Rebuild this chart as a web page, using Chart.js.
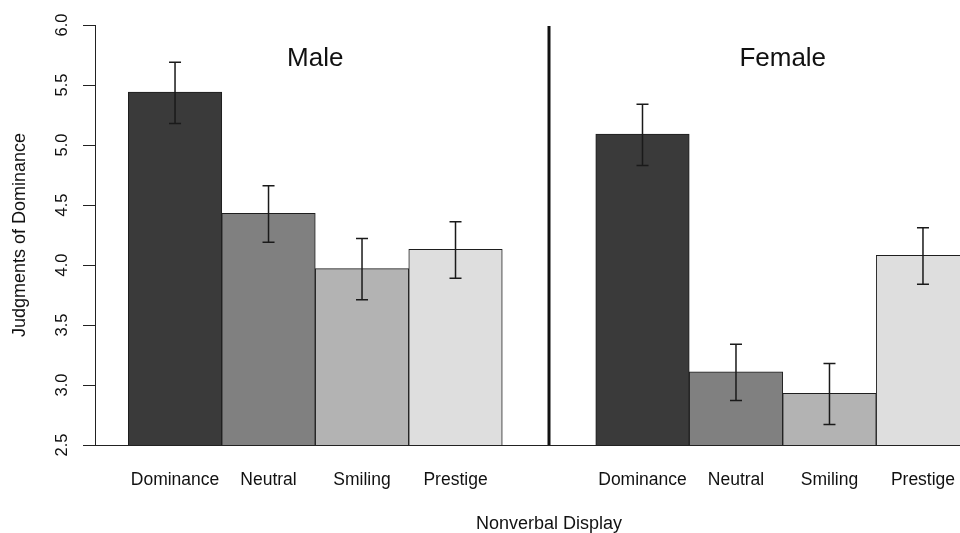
<!DOCTYPE html>
<html>
<head>
<meta charset="utf-8">
<script src="https://cdn.jsdelivr.net/npm/chart.js@4/dist/chart.umd.min.js"></script>
<style>
  html, body { margin: 0; padding: 0; background: #ffffff; }
  canvas { display: block; }
</style>
</head>
<body>
<canvas id="c" width="960" height="533"></canvas>
<script>
// ---- data ----
const groups = ['Male', 'Female'];
const categories = ['Dominance', 'Neutral', 'Smiling', 'Prestige'];
const maleMeans = [5.44, 4.43, 3.97, 4.13];
const maleLower = [5.18, 4.19, 3.71, 3.89];
const maleUpper = [5.69, 4.66, 4.22, 4.36];
const femaleMeans = [5.09, 3.11, 2.93, 4.08];
const femaleLower = [4.83, 2.87, 2.67, 3.84];
const femaleUpper = [5.34, 3.34, 3.18, 4.31];
const yTicks = [2.5, 3.0, 3.5, 4.0, 4.5, 5.0, 5.5, 6.0];
const xTitle = 'Nonverbal Display';
const yTitle = 'Judgments of Dominance';

// ---- styling ----
const barColors = ['#3a3a3a', '#808080', '#b3b3b3', '#dedede'];
const FONT = '"Liberation Sans", Arial, Helvetica, sans-serif';

// build points: group g occupies slots g*5+1 .. g*5+4
const means = [maleMeans, femaleMeans];
const lowers = [maleLower, femaleLower];
const uppers = [maleUpper, femaleUpper];
const points = [], lo = [], hi = [], colors = [], tickPos = [];
groups.forEach((g, gi) => {
  categories.forEach((c, ci) => {
    const x = gi * 5 + ci + 1;
    points.push({ x: x, y: means[gi][ci] });
    lo.push(lowers[gi][ci]);
    hi.push(uppers[gi][ci]);
    colors.push(barColors[ci]);
    tickPos.push(x);
  });
});

const overlay = {
  id: 'overlay',
  afterDatasetsDraw(chart) {
    const ctx = chart.ctx;
    const xs = chart.scales.x, ys = chart.scales.y;
    const area = chart.chartArea;
    ctx.save();
    // error bars
    ctx.strokeStyle = '#1a1a1a';
    ctx.lineWidth = 1.5;
    points.forEach((p, i) => {
      const px = xs.getPixelForValue(p.x);
      const yl = ys.getPixelForValue(lo[i]);
      const yh = ys.getPixelForValue(hi[i]);
      ctx.beginPath();
      ctx.moveTo(px, yl); ctx.lineTo(px, yh);
      ctx.moveTo(px - 6, yl); ctx.lineTo(px + 6, yl);
      ctx.moveTo(px - 6, yh); ctx.lineTo(px + 6, yh);
      ctx.stroke();
    });
    // separator between groups
    const sx = xs.getPixelForValue(5);
    ctx.strokeStyle = '#111';
    ctx.lineWidth = 3;
    ctx.beginPath();
    ctx.moveTo(sx, area.top + 1);
    ctx.lineTo(sx, area.bottom);
    ctx.stroke();
    // group titles
    ctx.fillStyle = '#111';
    ctx.font = '26px ' + FONT;
    ctx.textAlign = 'center';
    ctx.textBaseline = 'alphabetic';
    groups.forEach((g, gi) => {
      const cx = xs.getPixelForValue(gi * 5 + 2.5);
      ctx.fillText(g, cx, area.top + 41);
    });
    // x-axis title, centred on the full plot region (which runs past the crop)
    ctx.font = '18px ' + FONT;
    ctx.fillText(xTitle, xs.getPixelForValue(5), area.bottom + 84);
    // rotated y tick labels
    ctx.font = '16.5px ' + FONT;
    ctx.textBaseline = 'middle';
    ctx.textAlign = 'center';
    ys.ticks.forEach(t => {
      const py = ys.getPixelForValue(t.value);
      ctx.save();
      ctx.translate(area.left - 33, py);
      ctx.rotate(-Math.PI / 2);
      ctx.fillText(t.value.toFixed(1), 0, 0);
      ctx.restore();
    });
    ctx.restore();
  }
};

new Chart(document.getElementById('c'), {
  type: 'bar',
  data: {
    datasets: [{
      data: points,
      backgroundColor: colors,
      borderColor: '#1e1e1e',
      borderWidth: 1,
      barPercentage: 1.0,
      categoryPercentage: 1.0
    }]
  },
  options: {
    responsive: false,
    animation: false,
    devicePixelRatio: 1,
    layout: { autoPadding: false, padding: { top: 25, right: 0, left: 0, bottom: 0 } },
    plugins: { legend: { display: false }, tooltip: { enabled: false } },
    scales: {
      x: {
        type: 'linear',
        offset: false,
        min: 0.144,
        max: 9.396,
        afterBuildTicks: (scale) => { scale.ticks = tickPos.map(v => ({ value: v })); },
        afterFit: (scale) => { scale.height = 88; scale.paddingLeft = 0; scale.paddingRight = 0; },
        grid: { display: false, drawTicks: false, offset: false },
        border: { display: true, color: '#222', width: 1 },
        ticks: {
          padding: 25,
          autoSkip: false,
          maxRotation: 0,
          minRotation: 0,
          color: '#111',
          font: { family: FONT, size: 17.5 },
          callback: (v, i) => categories[i % categories.length]
        },
        title: { display: false }
      },
      y: {
        min: 2.5,
        max: 6.0,
        afterBuildTicks: (scale) => { scale.ticks = yTicks.map(v => ({ value: v })); },
        afterFit: (scale) => { scale.width = 95; scale.paddingTop = 0; scale.paddingBottom = 0; },
        grid: { drawOnChartArea: false, drawTicks: true, tickLength: 12, color: '#222', lineWidth: 1 },
        border: { display: true, color: '#222', width: 1 },
        ticks: { display: false },
        title: {
          display: true,
          text: yTitle,
          color: '#111',
          font: { family: FONT, size: 18 },
          padding: { top: 9, bottom: 0 }
        }
      }
    }
  },
  plugins: [overlay]
});
</script>
</body>
</html>
